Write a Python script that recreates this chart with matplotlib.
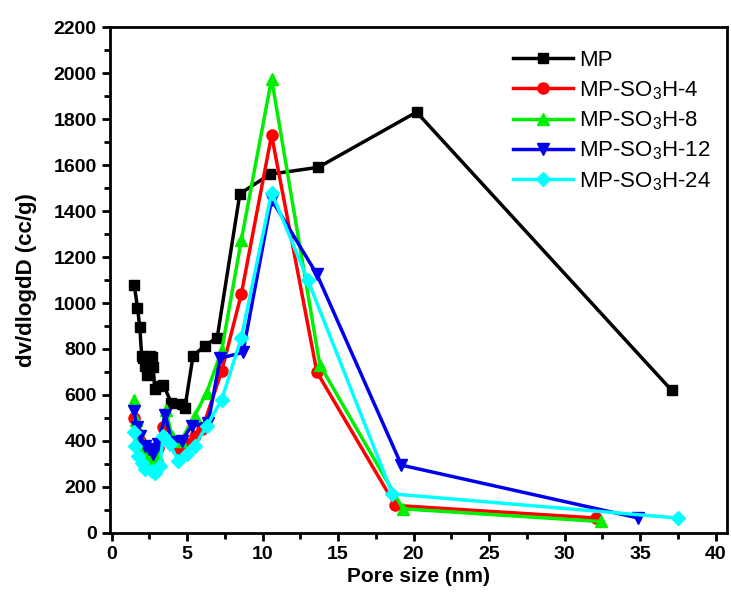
import matplotlib
matplotlib.use("Agg")
import matplotlib.pyplot as plt
from matplotlib.ticker import MultipleLocator

plt.rcParams['font.family'] = ['Liberation Sans', 'DejaVu Sans']
plt.rcParams['mathtext.default'] = 'regular'

# dados
x_mp = [1.5, 1.72, 1.87, 2.0, 2.1, 2.2, 2.32, 2.54, 2.65, 2.76, 2.87, 3.09, 3.42,
        3.97, 4.64, 4.86, 5.4, 6.2, 7.0, 8.5, 10.5, 13.7, 20.2, 37.1]
y_mp = [1080, 980, 895, 770, 760, 725, 685, 770, 765, 720, 625, 640, 645,
        565, 560, 545, 770, 815, 850, 1475, 1560, 1590, 1830, 620]

x_4 = [1.5, 1.65, 1.9, 2.2, 2.5, 2.8, 3.1, 3.4, 3.8, 4.4, 4.9, 5.5, 6.0, 7.3,
       8.6, 10.6, 13.6, 18.8, 32.1]
y_4 = [500, 440, 400, 360, 340, 330, 370, 460, 400, 360, 390, 420, 450, 705,
       1040, 1730, 700, 120, 65]

x_8 = [1.5, 1.6, 1.85, 2.1, 2.4, 2.7, 3.0, 3.6, 4.0, 4.6, 5.5, 6.3, 7.3, 8.6,
       10.6, 13.8, 19.3, 32.4]
y_8 = [580, 490, 420, 370, 330, 310, 340, 535, 420, 400, 510, 610, 795, 1275,
       1975, 730, 105, 50]

x_12 = [1.5, 1.66, 1.9, 2.2, 2.45, 2.75, 3.1, 3.55, 4.0, 4.65, 5.3, 6.4, 7.2,
        8.7, 10.6, 13.6, 19.2, 34.9]
y_12 = [530, 460, 420, 380, 365, 345, 385, 515, 395, 400, 465, 480, 760,
        785, 1450, 1125, 295, 65]

x_24 = [1.5, 1.56, 1.78, 2.0, 2.22, 2.65, 2.9, 3.2, 3.42, 3.86, 4.42, 4.97,
        5.52, 6.3, 7.3, 8.6, 10.6, 13.0, 18.6, 37.5]
y_24 = [440, 380, 335, 305, 280, 270, 260, 290, 420, 385, 315, 345,
        380, 465, 580, 850, 1480, 1100, 170, 65]

fig = plt.figure(figsize=(7.31, 6.03), dpi=100)
ax = fig.add_axes([0.1505, 0.1161, 0.844, 0.8391])

ax.plot(x_mp, y_mp, color='black', marker='s', lw=2.5, ms=7, label='MP')
ax.plot(x_4, y_4, color='#ff0000', marker='o', lw=2.5, ms=8, label='MP-SO$_3$H-4')
ax.plot(x_8, y_8, color='#00ee00', marker='^', lw=2.5, ms=9, label='MP-SO$_3$H-8')
ax.plot(x_12, y_12, color='#0000ee', marker='v', lw=2.5, ms=9, label='MP-SO$_3$H-12')
ax.plot(x_24, y_24, color='#00ffff', marker='D', lw=2.5, ms=7, label='MP-SO$_3$H-24')

ax.set_xlim(-0.1, 40.76)
ax.set_ylim(0, 2200)
ax.xaxis.set_major_locator(MultipleLocator(5))
ax.xaxis.set_minor_locator(MultipleLocator(2.5))
ax.yaxis.set_major_locator(MultipleLocator(200))
ax.yaxis.set_minor_locator(MultipleLocator(100))
ax.tick_params(which='major', direction='out', length=6, width=2, labelsize=14)
ax.tick_params(which='minor', direction='out', length=4, width=2)
for lab in ax.get_xticklabels() + ax.get_yticklabels():
    lab.set_fontweight('bold')
for s in ax.spines.values():
    s.set_linewidth(2)

ax.set_xlabel('Pore size (nm)', fontsize=15, fontweight='bold', labelpad=3)
ax.set_ylabel('dv/dlogdD (cc/g)', fontsize=16, fontweight='bold', labelpad=12)

ax.legend(loc='upper right', bbox_to_anchor=(1.0, 0.985), frameon=False,
          fontsize=16, handlelength=2.7, labelspacing=0.35, borderaxespad=0.3,
          handletextpad=0.27)

fig.savefig('out.png', dpi=100)
